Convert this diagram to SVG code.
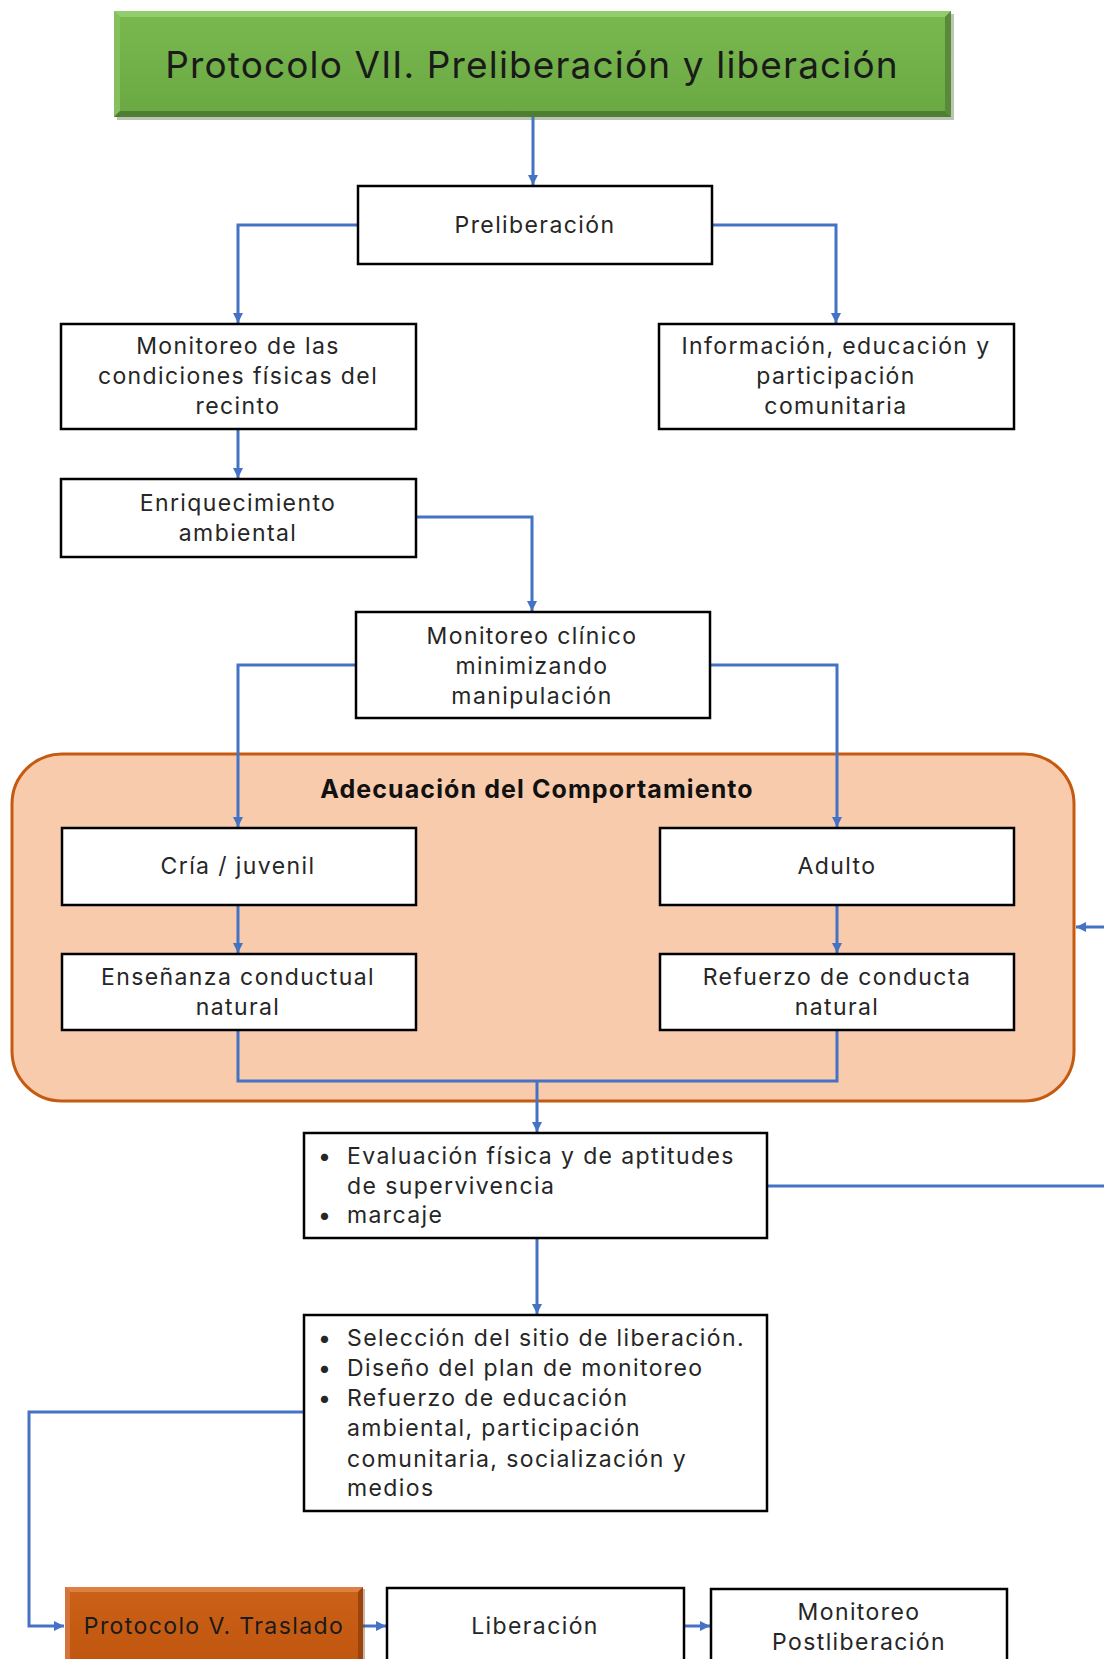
<svg xmlns="http://www.w3.org/2000/svg" width="1104" height="1659" viewBox="0 0 1104 1659">
<defs>
<marker id="ah" viewBox="0 0 10 10" refX="10" refY="5" markerWidth="10" markerHeight="10" markerUnits="userSpaceOnUse" orient="auto">
<path d="M0,0 L10,5 L0,10 z" fill="#4472c4"/>
</marker>
<linearGradient id="gG" x1="0" y1="0" x2="0" y2="1">
<stop offset="0" stop-color="#7ab84f"/><stop offset="1" stop-color="#6aa843"/>
</linearGradient>
<linearGradient id="gO" x1="0" y1="0" x2="0" y2="1">
<stop offset="0" stop-color="#cc6118"/><stop offset="1" stop-color="#bf560f"/>
</linearGradient>
<style>
.box{fill:#ffffff;stroke:#000000;stroke-width:2.5}
.t{font-family:Inter,"Open Sans","DejaVu Sans",sans-serif;font-size:23px;letter-spacing:1.4px;fill:#262626;text-anchor:middle}
.tl{font-family:Inter,"Open Sans","DejaVu Sans",sans-serif;font-size:23px;letter-spacing:1.4px;fill:#262626}
.c{fill:none;stroke:#4472c4;stroke-width:3}
</style>
</defs>

<g id="title">
<rect x="117" y="14" width="837" height="106" fill="#3a5a26" opacity="0.35"/>
<rect x="114" y="11" width="837" height="106" fill="url(#gG)"/>
<polygon points="114,11 951,11 945,17 120,17" fill="#93cc6d"/>
<polygon points="114,11 120,17 120,111 114,117" fill="#86c05e"/>
<polygon points="114,117 120,111 945,111 951,117" fill="#4f7d31"/>
<polygon points="951,11 951,117 945,111 945,17" fill="#5a8a39"/>
<text class="t" x="532" y="78" style="font-size:37px;letter-spacing:1.15px;fill:#1a1a1a">Protocolo VII. Preliberación y liberación</text>
</g>

<g id="adecuacion">
<rect x="12" y="754" width="1062" height="347" rx="50" ry="50" fill="#f8cbad" stroke="#c55a11" stroke-width="3"/>
<text class="t" x="537" y="798" style="font-weight:bold;font-size:25px;letter-spacing:1.1px;fill:#111">Adecuación del Comportamiento</text>
</g>

<g id="connectors">
<path class="c" d="M533,117 V185" marker-end="url(#ah)"/>
<path class="c" d="M358,225 H238 V323" marker-end="url(#ah)"/>
<path class="c" d="M712,225 H836 V323" marker-end="url(#ah)"/>
<path class="c" d="M238,429 V478" marker-end="url(#ah)"/>
<path class="c" d="M416,517 H532 V611" marker-end="url(#ah)"/>
<path class="c" d="M356,665 H238 V827" marker-end="url(#ah)"/>
<path class="c" d="M710,665 H837 V827" marker-end="url(#ah)"/>
<path class="c" d="M238,905 V953" marker-end="url(#ah)"/>
<path class="c" d="M837,905 V953" marker-end="url(#ah)"/>
<path class="c" d="M238,1030 V1081 H837 V1030"/>
<path class="c" d="M537,1081 V1132" marker-end="url(#ah)"/>
<path class="c" d="M767,1186 H1112 V927 H1076" marker-end="url(#ah)"/>
<path class="c" d="M537,1238 V1314" marker-end="url(#ah)"/>
<path class="c" d="M304,1412 H29 V1626 H64" marker-end="url(#ah)"/>
<path class="c" d="M363,1626 H386" marker-end="url(#ah)"/>
<path class="c" d="M684,1626 H710" marker-end="url(#ah)"/>
</g>

<g id="preliberacion">
<rect class="box" x="358" y="186" width="354" height="78"/>
<text class="t" x="535" y="233">Preliberación</text>
</g>

<g id="monitoreo-condiciones">
<rect class="box" x="61" y="324" width="355" height="105"/>
<text class="t" x="238" y="354">Monitoreo de las</text>
<text class="t" x="238" y="384">condiciones físicas del</text>
<text class="t" x="238" y="414">recinto</text>
</g>

<g id="informacion">
<rect class="box" x="659" y="324" width="355" height="105"/>
<text class="t" x="836" y="354">Información, educación y</text>
<text class="t" x="836" y="384">participación</text>
<text class="t" x="836" y="414">comunitaria</text>
</g>

<g id="enriquecimiento">
<rect class="box" x="61" y="479" width="355" height="78"/>
<text class="t" x="238" y="511">Enriquecimiento</text>
<text class="t" x="238" y="541">ambiental</text>
</g>

<g id="monitoreo-clinico">
<rect class="box" x="356" y="612" width="354" height="106"/>
<text class="t" x="532" y="644">Monitoreo clínico</text>
<text class="t" x="532" y="674">minimizando</text>
<text class="t" x="532" y="704">manipulación</text>
</g>

<g id="cria">
<rect class="box" x="62" y="828" width="354" height="77"/>
<text class="t" x="238" y="874">Cría / juvenil</text>
</g>

<g id="adulto">
<rect class="box" x="660" y="828" width="354" height="77"/>
<text class="t" x="837" y="874">Adulto</text>
</g>

<g id="ensenanza">
<rect class="box" x="62" y="954" width="354" height="76"/>
<text class="t" x="238" y="985">Enseñanza conductual</text>
<text class="t" x="238" y="1015">natural</text>
</g>

<g id="refuerzo">
<rect class="box" x="660" y="954" width="354" height="76"/>
<text class="t" x="837" y="985">Refuerzo de conducta</text>
<text class="t" x="837" y="1015">natural</text>
</g>

<g id="evaluacion">
<rect class="box" x="304" y="1133" width="463" height="105"/>
<text class="tl" x="318" y="1164">•</text>
<text class="tl" x="347" y="1164">Evaluación física y de aptitudes</text>
<text class="tl" x="347" y="1194">de supervivencia</text>
<text class="tl" x="318" y="1223">•</text>
<text class="tl" x="347" y="1223">marcaje</text>
</g>

<g id="seleccion">
<rect class="box" x="304" y="1315" width="463" height="196"/>
<text class="tl" x="318" y="1346">•</text>
<text class="tl" x="347" y="1346">Selección del sitio de liberación.</text>
<text class="tl" x="318" y="1376">•</text>
<text class="tl" x="347" y="1376">Diseño del plan de monitoreo</text>
<text class="tl" x="318" y="1406">•</text>
<text class="tl" x="347" y="1406">Refuerzo de educación</text>
<text class="tl" x="347" y="1436">ambiental, participación</text>
<text class="tl" x="347" y="1467">comunitaria, socialización y</text>
<text class="tl" x="347" y="1496">medios</text>
</g>

<g id="protocolo-v">
<rect x="67" y="1589" width="298" height="80" fill="#6b2f08" opacity="0.35"/>
<rect x="65" y="1587" width="298" height="80" fill="url(#gO)"/>
<polygon points="65,1587 363,1587 358,1592 70,1592" fill="#dd8044"/>
<polygon points="65,1587 70,1592 70,1667 65,1667" fill="#d6733a"/>
<polygon points="363,1587 363,1667 358,1667 358,1592" fill="#9a430b"/>
<text class="t" x="214" y="1634" style="fill:#1a1a1a">Protocolo V. Traslado</text>
</g>

<g id="liberacion">
<rect class="box" x="387" y="1588" width="297" height="80"/>
<text class="t" x="535" y="1634">Liberación</text>
</g>

<g id="postliberacion">
<rect class="box" x="711" y="1589" width="296" height="80"/>
<text class="t" x="859" y="1620">Monitoreo</text>
<text class="t" x="859" y="1650">Postliberación</text>
</g>
</svg>
